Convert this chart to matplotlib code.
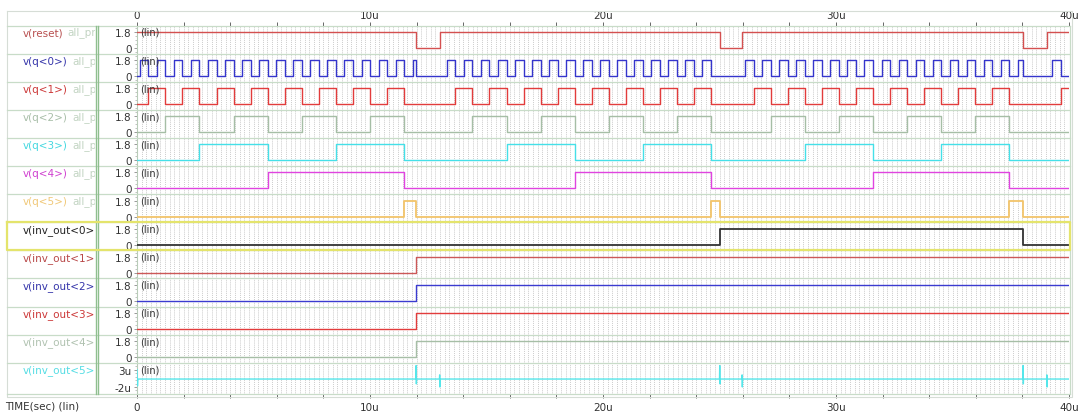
import matplotlib
matplotlib.use("Agg")
import matplotlib.pyplot as plt
from matplotlib.ticker import FuncFormatter, MultipleLocator

W, H = 1080, 414

# trace names in the left column
names = ["v(reset)", "v(q<0>)", "v(q<1>)", "v(q<2>)", "v(q<3>)", "v(q<4>)", "v(q<5>)",
         "v(inv_out<0>", "v(inv_out<1>", "v(inv_out<2>", "v(inv_out<3>", "v(inv_out<4>",
         "v(inv_out<5>"]
suffix = ["all_pr", "all_p", "all_p", "all_p", "all_p", "all_p", "all_p",
          "", "", "", "", "", ""]
line_colors = ["#d45050", "#3535cc", "#e23c3c", "#a6bea6", "#45e0e8", "#e044e0", "#f2c46a",
               "#333333", "#cc5858", "#3b3bd0", "#e23c3c", "#a6bea6", "#55e6ea"]
name_colors = ["#b85050", "#3535aa", "#cc3838", "#a8bea8", "#45d8e0", "#d040d0", "#f0c878",
               "#222222", "#b84848", "#3535aa", "#cc3838", "#b0c2b0", "#55dde4"]

# transition times in us (digital traces toggle between 0 and 1.8 V)
reset_edges = [11.98, 12.99, 25.01, 25.97, 38.03, 39.05]
q0_edges = [0.12, 0.49, 0.85, 1.22, 1.59, 1.95, 2.32, 2.68, 3.05, 3.42, 3.78, 4.15,
            4.51, 4.88, 5.25, 5.61, 5.98, 6.34, 6.71, 7.08, 7.44, 7.81, 8.17, 8.54,
            8.90, 9.27, 9.64, 10.00, 10.37, 10.73, 11.10, 11.47, 11.83, 11.98,
            13.30, 13.66, 14.03, 14.39, 14.76, 15.12, 15.49, 15.86, 16.22, 16.59,
            16.95, 17.32, 17.69, 18.05, 18.42, 18.78, 19.15, 19.52, 19.88, 20.25,
            20.61, 20.98, 21.35, 21.71, 22.08, 22.44, 22.81, 23.17, 23.54, 23.91,
            24.27, 24.64,
            26.10, 26.47, 26.83, 27.20, 27.57, 27.93, 28.30, 28.66, 29.03, 29.40,
            29.76, 30.13, 30.49, 30.86, 31.22, 31.59, 31.96, 32.32, 32.69, 33.05,
            33.42, 33.79, 34.15, 34.52, 34.88, 35.25, 35.62, 35.98, 36.35, 36.71,
            37.08, 37.44, 37.81, 38.03,
            39.27, 39.64]
q1_edges = [0.49, 1.22, 1.95, 2.68, 3.42, 4.15, 4.88, 5.61, 6.34, 7.08, 7.81, 8.54,
            9.27, 10.00, 10.73, 11.47,
            13.66, 14.39, 15.12, 15.86, 16.59, 17.32, 18.05, 18.78, 19.52, 20.25,
            20.98, 21.71, 22.44, 23.17, 23.91, 24.64,
            26.47, 27.20, 27.93, 28.66, 29.40, 30.13, 30.86, 31.59, 32.32, 33.05,
            33.79, 34.52, 35.25, 35.98, 36.71, 37.44,
            39.64]
q2_edges = [1.22, 2.68, 4.15, 5.61, 7.08, 8.54, 10.00, 11.47,
            14.39, 15.86, 17.32, 18.78, 20.25, 21.71, 23.17, 24.64,
            27.20, 28.66, 30.13, 31.59, 33.05, 34.52, 35.98, 37.44]
q3_edges = [2.68, 5.61, 8.54, 11.47, 15.86, 18.78, 21.71, 24.64,
            28.66, 31.59, 34.52, 37.44]
q4_edges = [5.61, 11.47, 18.78, 24.64, 31.59, 37.44]
q5_edges = [11.47, 11.98, 24.64, 25.01, 37.44, 38.03]
inv0_edges = [25.01, 38.03]
inv1_edges = [11.98]
inv2_edges = [11.98]
inv3_edges = [11.98]
inv4_edges = [11.98]
start_high = [True] + [False] * 11

# inv_out<5> stays near zero with small glitches (uV)
inv5_t = [0.0, 0.02, 0.04, 11.97, 11.98, 11.99, 12.0, 12.98, 12.99, 13.0, 13.01,
          25.0, 25.01, 25.02, 25.03, 25.96, 25.97, 25.98, 25.99,
          38.02, 38.03, 38.04, 38.05, 39.04, 39.05, 39.06, 39.07, 40.0]
inv5_v = [3.0, -1.7, 0.3, 0.3, 4.2, -1.1, 0.3, 0.3, 1.5, -2.0, 0.3,
          0.3, 4.2, -1.1, 0.3, 0.3, 1.5, -2.0, 0.3,
          0.3, 4.2, -1.1, 0.3, 0.3, 1.5, -2.0, 0.3, 0.3]

digital = [reset_edges, q0_edges, q1_edges, q2_edges, q3_edges, q4_edges, q5_edges,
           inv0_edges, inv1_edges, inv2_edges, inv3_edges, inv4_edges]

T_END = 40.0
VDD = 1.8

fig = plt.figure(figsize=(W / 100, H / 100), dpi=100)
fig.patch.set_facecolor("white")


def px_axes(x0, y0, x1, y1, **kw):
    return fig.add_axes([x0 / W, 1 - y1 / H, (x1 - x0) / W, (y1 - y0) / H], **kw)


X0, X1 = 137, 1069
ROW = 28.1
TOP = 26.5
tops = [TOP + ROW * i for i in range(13)]
bottoms = [t + ROW for t in tops[:-1]] + [395]


def tlabel(v, pos):
    if abs(v % 10) > 1e-6:
        return ""
    return "0" if v == 0 else "%du" % v


axes = []
for i in range(13):
    ax = px_axes(X0, tops[i], X1, bottoms[i])
    ax.set_xlim(0, T_END)
    ax.xaxis.set_major_locator(MultipleLocator(2))
    ax.xaxis.set_minor_locator(MultipleLocator(0.2))
    ax.grid(which="both", axis="x", color="#bcbcbc", ls=(0, (1, 1.3)), lw=0.6)
    ax.set_axisbelow(True)
    for s in ax.spines.values():
        s.set_visible(False)
    ax.spines["left"].set_visible(True)
    ax.spines["left"].set_color("#b8ccb8")
    ax.tick_params(axis="x", which="both", length=0, labelbottom=False)
    ax.tick_params(axis="y", which="major", direction="out", length=2.5, width=0.6,
                   color="#888888", labelsize=7.5, labelcolor="#333333", pad=1.5)
    ax.tick_params(axis="y", which="minor", direction="out", length=1.2, width=0.5,
                   color="#aaaaaa")
    if i < 12:
        ax.set_ylim(-0.63, 2.53)
        ax.set_yticks([0, VDD])
        ax.set_yticklabels(["0", "1.8"])
        ax.yaxis.set_minor_locator(MultipleLocator(0.45))
        edges = digital[i]
        level = VDD if start_high[i] else 0.0
        ts, ys = [0.0], [level]
        for e in edges:
            level = 0.0 if level else VDD
            ts.append(e)
            ys.append(level)
        ts.append(T_END)
        ys.append(level)
        ax.step(ts, ys, where="post", color=line_colors[i],
                lw=1.3 if i in (6, 7) else 1.0, zorder=3)
        ylab = VDD
    else:
        ax.set_ylim(-4.03, 5.03)
        ax.set_yticks([-2, 3])
        ax.set_yticklabels(["-2u", "3u"])
        ax.yaxis.set_minor_locator(MultipleLocator(1))
        ax.plot(inv5_t, inv5_v, color=line_colors[i], lw=1.0, zorder=3)
        ylab = 3
    ax.annotate("(lin)", xy=(0, ylab), xytext=(2, 0), textcoords="offset points",
                va="center", ha="left", fontsize=7, color="#333333", zorder=6)
    axes.append(ax)

# time axis along the top of the first trace and below the last one
top_ax = axes[0]
top_ax.xaxis.tick_top()
top_ax.xaxis.set_major_formatter(FuncFormatter(tlabel))
top_ax.tick_params(axis="x", which="major", top=True, labeltop=True, direction="out",
                   length=3, width=0.7, color="#666666", labelsize=7.5,
                   labelcolor="#333333", pad=1.0)
bot_ax = axes[-1]
bot_ax.xaxis.set_major_formatter(FuncFormatter(tlabel))
bot_ax.tick_params(axis="x", which="major", bottom=True, labelbottom=True,
                   direction="out", length=3, width=0.7, color="#666666",
                   labelsize=7.5, labelcolor="#333333", pad=2.5)

# trace names, clipped to the name column
names_ax = px_axes(7, TOP, 95, 395)
names_ax.set_xlim(7, 95)
names_ax.set_ylim(395, TOP)
names_ax.axis("off")
for i in range(13):
    t = names_ax.text(23, tops[i] + 7, names[i], color=name_colors[i], fontsize=7.5,
                      va="center", ha="left", clip_on=True)
    if suffix[i]:
        names_ax.annotate(suffix[i], xy=(1, 0), xycoords=t, xytext=(3, 0),
                          textcoords="offset points", va="bottom", ha="left",
                          fontsize=7.5, color="#c2d4c2", annotation_clip=False,
                          clip_on=True)

# frame lines, row separators and the highlighted row
ov = fig.add_axes([0, 0, 1, 1], zorder=10)
ov.set_xlim(0, W)
ov.set_ylim(H, 0)
ov.patch.set_visible(False)
ov.axis("off")
ov.plot([7, 1072, 1072, 7, 7], [12, 12, 398, 398, 12], color="#d6ddd6", lw=0.8)
for y in tops + [395]:
    ov.plot([7, 1070], [y, y], color="#c8dcc8", lw=0.9)
ov.plot([1070, 1070], [TOP, 395], color="#c8dcc8", lw=0.9)
ov.plot([95.5, 95.5], [TOP, 395], color="#8fbf8f", lw=1.0)
ov.plot([98, 98], [TOP, 395], color="#8fbf8f", lw=1.0)
ov.plot([7, 1070, 1070, 7, 7], [tops[7], tops[7], bottoms[7], bottoms[7], tops[7]],
        color="#e4e46c", lw=1.6)

fig.text(5 / W, 1 - 407 / H, "TIME(sec) (lin)", fontsize=7.5, color="#333333",
         va="center", ha="left")

fig.savefig("out.png", dpi=100)
